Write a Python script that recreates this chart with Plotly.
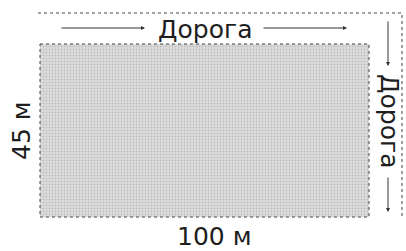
import plotly.graph_objects as go

# Diagram content
road_label = "Дорога"
plot_length_m = [100]
plot_width_m = [45]
length_label = f"{plot_length_m[0]} м"
width_label = f"{plot_width_m[0]} м"

# rectangle corners (pixel-like frame coordinates)
rect_x = [40, 369, 369, 40, 40]
rect_y = [44, 44, 217, 217, 44]

FONT = "DejaVu Sans, Arial, sans-serif"
ink = "#1e1e1e"

fig = go.Figure()

fig.add_trace(go.Scatter(
    x=rect_x, y=rect_y, mode="lines", fill="toself",
    fillcolor="#d6d6d6",
    fillpattern=dict(shape=".", bgcolor="#dedede", fgcolor="#9a9a9a", size=3, solidity=0.3),
    line=dict(color="#444444", width=1, dash="dot"),
    hoverinfo="skip", showlegend=False))

# road boundary lines
fig.add_trace(go.Scatter(x=[38, 402, 402], y=[13, 13, 218], mode="lines",
                         line=dict(color="#444444", width=1, dash="dot"),
                         hoverinfo="skip", showlegend=False))

annotations = [
    dict(x=205, y=29, text=road_label, showarrow=False, font=dict(size=25, color=ink, family=FONT)),
    dict(x=390, y=121, text=road_label, showarrow=False, textangle=90, font=dict(size=25, color=ink, family=FONT)),
    dict(x=21, y=131, text=width_label, showarrow=False, textangle=-90, font=dict(size=25, color=ink, family=FONT)),
    dict(x=214, y=236, text=length_label, showarrow=False, font=dict(size=25, color=ink, family=FONT)),
]
arrows = [((60, 28), (145, 28)), ((262, 28), (347, 28)), ((388, 20), (388, 66)), ((388, 176), (388, 212))]
for (x0, y0), (x1, y1) in arrows:
    annotations.append(dict(x=x1, y=y1, ax=x0, ay=y0, xref="x", yref="y", axref="x", ayref="y",
                            text="", showarrow=True, arrowhead=2, arrowsize=0.8, arrowwidth=1,
                            arrowcolor="#333333"))

fig.update_layout(
    width=406, height=251, margin=dict(l=0, r=0, t=0, b=0),
    paper_bgcolor="white", plot_bgcolor="white",
    xaxis=dict(range=[0, 406], visible=False, fixedrange=True),
    yaxis=dict(range=[251, 0], visible=False, fixedrange=True),
    annotations=annotations, showlegend=False)

fig.write_html("out.html", config={"displayModeBar": False},
               post_script="document.body.style.margin='0';document.body.style.padding='0';")
